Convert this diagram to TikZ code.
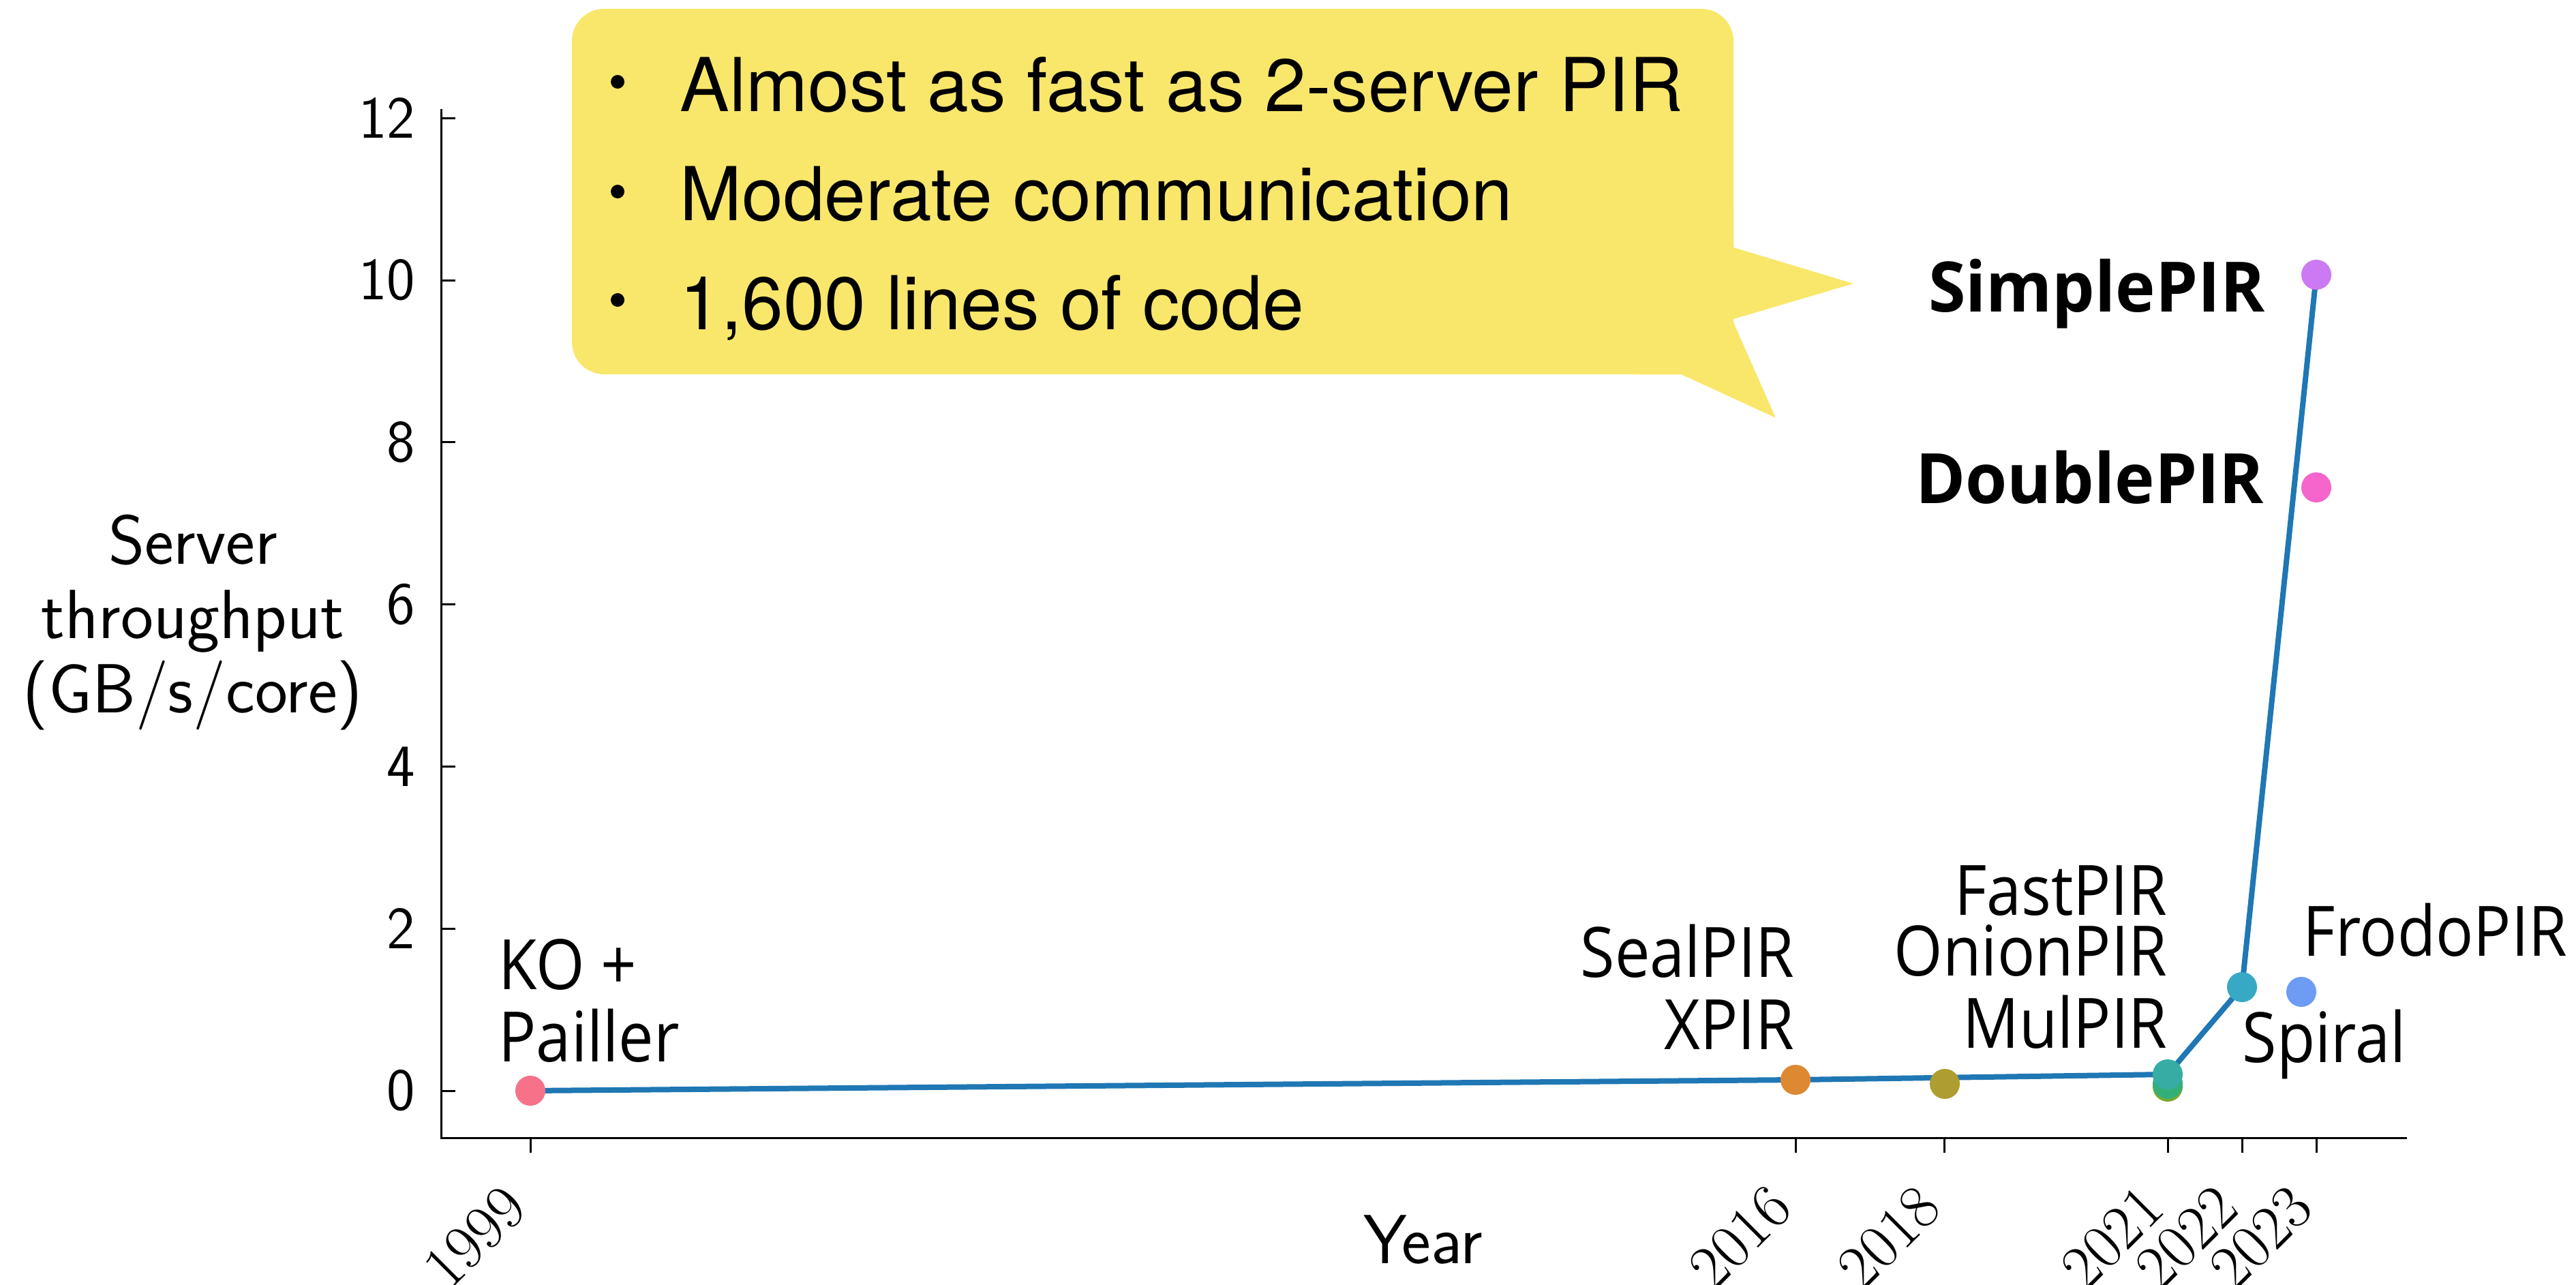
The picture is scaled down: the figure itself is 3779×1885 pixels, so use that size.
\documentclass[tikz,border=0pt]{standalone}
\usepackage{fontspec}
\newfontfamily\labelfont{Open Sans}[FakeStretch=0.9]
\newfontfamily\boldlabelfont{Open Sans}[FakeStretch=0.97]
\newfontfamily\notefont{TeX Gyre Heros}

\definecolor{trendblue}{HTML}{1F77B4}
\definecolor{notebg}{HTML}{F9E76B}
\definecolor{cPink}{HTML}{F77189}
\definecolor{cOrange}{HTML}{DC8932}
\definecolor{cOlive}{HTML}{AE9D31}
\definecolor{cLime}{HTML}{77AB31}
\definecolor{cGreen}{HTML}{33B07A}
\definecolor{cTeal}{HTML}{36ADA4}
\definecolor{cCyan}{HTML}{38A9C5}
\definecolor{cBlue}{HTML}{6E9BF4}
\definecolor{cPurple}{HTML}{CC7AF4}
\definecolor{cMagenta}{HTML}{F565CC}

\begin{document}
\begin{tikzpicture}[x=0.01cm, y=-0.01cm,
  spine/.style={line width=0.03cm, black},
  trend/.style={draw=trendblue, line width=0.08cm, line join=round, line cap=round},
  dot/.style={circle, inner sep=0pt, minimum size=0.44cm},
  lbl/.style={font={\labelfont\fontsize{29}{30}\selectfont}, inner sep=0pt, text depth=0pt},
  boldlbl/.style={font={\boldlabelfont\bfseries\fontsize{29}{30}\selectfont}, inner sep=0pt, text depth=0pt},
  ytick/.style={font={\sffamily\fontsize{25}{27}\selectfont}, inner sep=0pt},
  xtick/.style={font={\rmfamily\fontsize{26}{28}\selectfont}, inner sep=0pt},
  axlabel/.style={font={\sffamily\fontsize{29}{31}\selectfont}, inner sep=0pt, text depth=0pt},
  note/.style={font={\notefont\fontsize{31}{45}\selectfont}, inner sep=0pt}
]
\useasboundingbox (0,0) rectangle (3779,1885);

% speech bubble
\fill[notebg, rounded corners=0.47cm] (839,13) rectangle (2543,549);
\fill[notebg] (2400,300) -- (2543,300) -- (2543,363) -- (2719,416) -- (2543,468)
  -- (2543,473) -- (2605,613) -- (2466,549) -- (2400,549) -- cycle;
\foreach \by in {120,281,440} \fill (906,\by) circle (0.1cm);
\node[note, anchor=base west] (n1) at (997,163) {Almost as fast as 2-server PIR};
\node[note, anchor=base west] (n2) at (997,323) {Moderate communication};
\node[note, anchor=base west] (n3) at (997,483) {1,600 lines of code};

% axes
\draw[spine] (647,160) -- (647,1669) -- (3531,1669);
\foreach \v in {0,2,...,12} {
  \draw[spine] (647,{1600-118.9*\v}) -- ++(21,0);
  \node[ytick, anchor=east] (yt\v) at (610,{1600-118.9*\v}) {\v};
}
\foreach \yr in {1999,2016,2018,2021,2022,2023} {
  \pgfmathsetmacro\xx{778+109.2*(\yr-1999)}
  \draw[spine] (\xx,1669) -- (\xx,1691);
  \node[xtick, rotate=45, anchor=north east] (xt\yr) at (\xx-44,1733) {\yr};
}
\node[axlabel, align=center, anchor=south] (ylab) at (283,1046) {Server\\throughput\\(GB/s/core)};
\node[axlabel, anchor=base] (xlab) at (2088,1853) {Year};

% best-so-far trend
\coordinate (c1999) at (778,1600);
\coordinate (c2016) at (2634,1584);
\coordinate (c2021) at (3180,1576);
\coordinate (c2022) at (3289,1448);
\coordinate (c2023) at (3398,403);
\draw[trend] (c1999) -- (c2016) -- (c2021) -- (c2022) -- (c2023);

% schemes
\node[dot, fill=cPink] (ko) at (c1999) {};
\node[dot, fill=cOrange] (seal) at (c2016) {};
\node[dot, fill=cOlive] (onionpt) at (2853,1590) {};
\node[dot, fill=cLime] (mulpt) at (3180,1594) {};
\node[dot, fill=cGreen] (fastpt) at (3180,1590) {};
\node[dot, fill=cTeal] (best21) at (c2021) {};
\node[dot, fill=cCyan] (spiral) at (c2022) {};
\node[dot, fill=cBlue] (frodo) at (3376,1455) {};
\node[dot, fill=cPurple] (simple) at (c2023) {};
\node[dot, fill=cMagenta] (double) at (3398,715) {};

% scheme labels
\node[lbl, anchor=south west, align=left] (lko) at (731,1558) {KO +\\Pailler};
\node[lbl, anchor=south east, align=right] (lseal) at (2633,1540) {SealPIR\\XPIR};
\node[lbl, anchor=south east] (lfast) at (3180,1343) {FastPIR};
\node[lbl, anchor=south east, align=right] (lonion) at (3180,1538) {OnionPIR\\MulPIR};
\node[lbl, anchor=south west] (lspiral) at (3289,1559) {Spiral};
\node[lbl, anchor=south west] (lfrodo) at (3378,1403) {FrodoPIR};
\node[boldlbl, anchor=south east] (lsimple) at (3323,458) {SimplePIR};
\node[boldlbl, anchor=south east] (ldouble) at (3322,739) {DoublePIR};
\end{tikzpicture}
\end{document}
